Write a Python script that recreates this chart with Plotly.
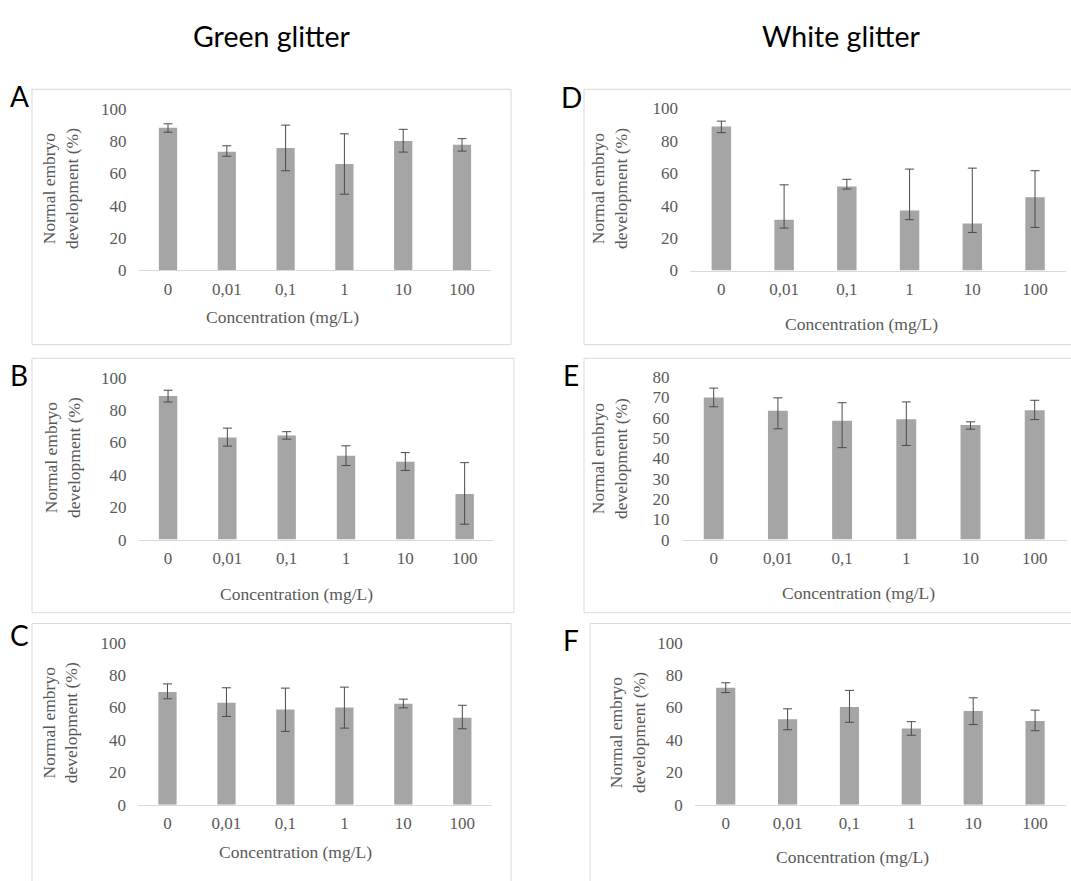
import plotly.graph_objects as go

W, H = 1071, 881

categories = ["0", "0,01", "0,1", "1", "10", "100"]

# Green glitter
a_mean = [88.3, 73.4, 75.7, 65.8, 80.1, 77.7]
a_up = [2.4, 3.7, 14.2, 18.7, 7.2, 3.8]
a_down = [2.8, 2.8, 14.1, 18.7, 6.9, 3.9]

b_mean = [88.7, 63.0, 64.2, 51.7, 48.1, 28.2]
b_up = [3.5, 5.8, 2.4, 6.2, 5.6, 19.3]
b_down = [3.8, 5.3, 2.2, 6.0, 5.4, 18.7]

c_mean = [69.6, 63.0, 58.8, 60.0, 62.4, 53.7]
c_up = [5.0, 9.2, 13.2, 12.6, 2.8, 7.7]
c_down = [4.2, 8.5, 13.5, 12.7, 2.6, 6.8]

# White glitter
d_mean = [88.9, 31.4, 51.9, 37.0, 29.0, 45.3]
d_up = [3.3, 21.5, 4.4, 25.6, 34.2, 16.3]
d_down = [3.8, 5.2, 1.6, 5.6, 5.5, 18.7]

e_mean = [69.9, 63.3, 58.4, 59.2, 56.3, 63.6]
e_up = [4.6, 6.4, 8.9, 8.5, 1.6, 4.9]
e_down = [4.6, 8.8, 13.2, 12.9, 2.0, 4.6]

f_mean = [72.2, 52.7, 60.4, 47.1, 57.9, 51.7]
f_up = [3.1, 6.5, 10.2, 4.2, 8.1, 6.7]
f_down = [3.0, 6.4, 9.5, 4.2, 8.4, 6.0]

column_titles = ["Green glitter", "White glitter"]
x_title = "Concentration (mg/L)"
y_title = "Normal embryo<br>development (%)"

BAR = "#A5A5A5"
ERR = "#4a4a4a"
TXT = "#595959"
AX = "#D9D9D9"
SERIF = "Liberation Serif, Times New Roman, serif"
SANS = "Lato, Carlito, Calibri, sans-serif"

def px(x):
    return x / W

def py(y):
    return 1 - y / H

panels = [
    dict(letter="A", mean=a_mean, up=a_up, down=a_down, l=138.6, r=491.4, yb=267, yt=102, ymax=100, dt=20,
         frame=(32, 82, 511, 343), lpos=(19, 89), yt_pos=(60, 184), xt_pos=(282, 315)),
    dict(letter="B", mean=b_mean, up=b_up, down=b_down, l=138.4, r=494.3, yb=542.3, yt=376.7, ymax=100, dt=20,
         frame=(32, 357, 514, 617), lpos=(19, 374), yt_pos=(62, 459), xt_pos=(296, 598)),
    dict(letter="C", mean=c_mean, up=c_up, down=c_down, l=138.0, r=491.8, yb=813.3, yt=647.7, ymax=100, dt=20,
         frame=(32, 628, 511, 900), lpos=(19, 640), yt_pos=(60, 730), xt_pos=(295, 862)),
    dict(letter="D", mean=d_mean, up=d_up, down=d_down, l=690.0, r=1066.4, yb=267.3, yt=101.7, ymax=100, dt=20,
         frame=(584, 82, 1080, 343), lpos=(571, 90), yt_pos=(609, 184), xt_pos=(861, 322)),
    dict(letter="E", mean=e_mean, up=e_up, down=e_down, l=681.6, r=1066.8, yb=542.3, yt=376.0, ymax=80, dt=10,
         frame=(584, 357, 1080, 617), lpos=(571, 374), yt_pos=(609, 460), xt_pos=(858, 597)),
    dict(letter="F", mean=f_mean, up=f_up, down=f_down, l=694.8, r=1066.0, yb=813.3, yt=647.7, ymax=100, dt=20,
         frame=(590, 628, 1080, 900), lpos=(571, 645), yt_pos=(627, 740), xt_pos=(852, 867)),
]

fig = go.Figure()
layout = dict(
    width=W, height=H, margin=dict(l=0, r=0, t=0, b=0),
    paper_bgcolor="white", plot_bgcolor="white", showlegend=False,
    bargap=0.69,
)
shapes = []
annotations = []

for i, p in enumerate(panels):
    n = "" if i == 0 else str(i + 1)
    fig.add_trace(go.Bar(
        x=categories, y=p["mean"], marker=dict(color=BAR, line=dict(width=0)),
        error_y=dict(type="data", symmetric=False, array=p["up"], arrayminus=p["down"],
                     color=ERR, thickness=1, width=4.5),
        xaxis="x" + n, yaxis="y" + n,
    ))
    layout["xaxis" + n] = dict(
        domain=[px(p["l"]), px(p["r"])], anchor="y" + n,
        type="category", range=[-0.5, 5.5], showgrid=False, zeroline=False,
        showline=True, linecolor=AX, linewidth=1, ticks="",
        tickfont=dict(family=SERIF, size=17, color=TXT), ticklabelstandoff=3,
    )
    layout["yaxis" + n] = dict(
        domain=[py(p["yb"]), py(p["yt"])], anchor="x" + n,
        range=[0, p["ymax"]], dtick=p["dt"], tick0=0, showgrid=False, zeroline=False,
        showline=False, ticks="",
        tickfont=dict(family=SERIF, size=17, color=TXT), ticklabelstandoff=11,
    )
    x0, y0, x1, y1 = p["frame"]
    shapes.append(dict(type="rect", xref="paper", yref="paper",
                       x0=px(x0), x1=px(x1), y0=py(y1), y1=py(y0),
                       line=dict(color=AX, width=1), fillcolor="rgba(0,0,0,0)", layer="below"))
    annotations.append(dict(text=p["letter"], xref="paper", yref="paper",
                            x=px(p["lpos"][0]), y=py(p["lpos"][1]), xanchor="center", yanchor="middle",
                            showarrow=False, font=dict(family=SANS, size=28, color="black")))
    annotations.append(dict(text=y_title, xref="paper", yref="paper",
                            x=px(p["yt_pos"][0]), y=py(p["yt_pos"][1]), xanchor="center", yanchor="middle",
                            textangle=-90, showarrow=False,
                            font=dict(family=SERIF, size=17.5, color=TXT)))
    annotations.append(dict(text=x_title, xref="paper", yref="paper",
                            x=px(p["xt_pos"][0]), y=py(p["xt_pos"][1]), xanchor="center", yanchor="middle",
                            showarrow=False, font=dict(family=SERIF, size=17.5, color=TXT)))

for title, cx in zip(column_titles, [272, 841]):
    annotations.append(dict(text=title, xref="paper", yref="paper",
                            x=px(cx), y=py(28), xanchor="center", yanchor="middle",
                            showarrow=False, font=dict(family=SANS, size=28.5, color="black")))

layout["shapes"] = shapes
layout["annotations"] = annotations
fig.update_layout(**layout)
fig.write_html("out.html", config={"displayModeBar": False},
               post_script="document.body.style.margin='0px';")
